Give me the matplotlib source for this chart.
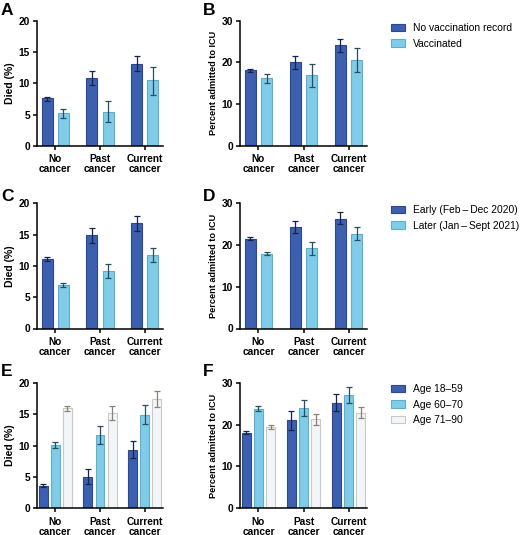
import matplotlib
matplotlib.use("Agg")
import matplotlib.pyplot as plt
import numpy as np
from matplotlib.patches import Patch

plt.rcParams['font.family'] = ['Liberation Sans', 'DejaVu Sans']

groups = ["No\ncancer", "Past\ncancer", "Current\ncancer"]

# A / B: vaccination status
vacc_labels = ["No vaccination record", "Vaccinated"]
died_vacc = [[7.6, 10.8, 13.1], [5.2, 5.5, 10.5]]
died_vacc_lo = [[7.25, 9.7, 11.9], [4.5, 3.85, 8.2]]
died_vacc_hi = [[7.9, 11.9, 14.3], [5.85, 7.15, 12.6]]
icu_vacc = [[18.1, 20.0, 24.1], [16.2, 16.9, 20.5]]
icu_vacc_lo = [[17.7, 18.5, 22.5], [15.2, 14.2, 17.6]]
icu_vacc_hi = [[18.5, 21.5, 25.6], [17.3, 19.6, 23.4]]

# C / D: period
period_labels = ["Early (Feb\u2009\u2013\u2009Dec 2020)", "Later (Jan\u2009\u2013\u2009Sept 2021)"]
died_period = [[11.05, 14.9, 16.8], [6.9, 9.25, 11.8]]
died_period_lo = [[10.7, 13.7, 15.6], [6.6, 8.1, 10.6]]
died_period_hi = [[11.35, 16.1, 18.0], [7.2, 10.3, 12.9]]
icu_period = [[21.5, 24.3, 26.3], [17.9, 19.2, 22.7]]
icu_period_lo = [[21.1, 22.9, 25.0], [17.55, 17.7, 21.3]]
icu_period_hi = [[21.85, 25.8, 27.8], [18.35, 20.7, 24.2]]

# E / F: age
age_labels = ["Age 18\u201359", "Age 60\u201370", "Age 71\u201390"]
died_age = [[3.6, 5.0, 9.35], [10.05, 11.7, 14.9], [15.95, 15.15, 17.4]]
died_age_lo = [[3.45, 3.8, 8.0], [9.6, 10.3, 13.4], [15.55, 14.0, 16.1]]
died_age_hi = [[3.8, 6.3, 10.7], [10.5, 13.2, 16.5], [16.35, 16.3, 18.7]]
icu_age = [[18.1, 21.0, 25.3], [23.8, 23.9, 27.0], [19.55, 21.3, 22.8]]
icu_age_lo = [[17.85, 18.7, 23.3], [23.2, 22.0, 25.3], [19.05, 20.0, 21.5]]
icu_age_hi = [[18.4, 23.3, 27.3], [24.4, 25.9, 28.9], [20.0, 22.6, 24.3]]

fills = ["#3d5fb0", "#80cbe7", "#f3f6f8"]
edges = ["#2b4891", "#5eaecf", "#c9c9c9"]
errc = ["#16244d", "#274f63", "#8a8274"]

fig = plt.figure(figsize=(5.2, 5.35), dpi=100)

colL, colR = 37 / 520, 240 / 520
wL, wR = 126 / 520, 127 / 520
rows = [1 - 146 / 535, 1 - 328.5 / 535, 1 - 508.2 / 535]
h = 125.3 / 535


def panel(pos, vals, lo, hi, ymax, ylab, ylabsize, letter, letter_xy):
    ax = fig.add_axes(pos)
    n = len(vals)
    x = np.arange(len(groups))
    if n == 2:
        offs = [-0.18, 0.18]
        w = 0.245
    else:
        offs = [-0.27, 0.0, 0.27]
        w = 0.2
    for i in range(n):
        v = np.array(vals[i])
        yerr = [v - np.array(lo[i]), np.array(hi[i]) - v]
        ax.bar(x + offs[i], v, w, color=fills[i], edgecolor=edges[i], linewidth=0.8, zorder=2)
        ax.errorbar(x + offs[i], v, yerr=yerr, fmt='none', ecolor=errc[i],
                    elinewidth=0.9, capsize=2.0, capthick=0.9, zorder=3)
    ax.set_xlim(-0.41, 2.41)
    ax.set_ylim(0, ymax)
    step = 5 if ymax == 20 else 10
    ax.set_yticks(np.arange(0, ymax + 1, step))
    ax.set_xticks(x)
    ax.set_xticklabels(groups, fontsize=7.3, fontweight='bold', linespacing=1.0)
    for t in ax.get_yticklabels():
        t.set_fontsize(7.4)
        t.set_fontweight('bold')
    ax.spines['top'].set_visible(False)
    ax.spines['right'].set_visible(False)
    ax.spines['left'].set_linewidth(1.1)
    ax.spines['bottom'].set_linewidth(1.1)
    ax.tick_params(axis='both', length=3, width=1.1, pad=2)
    ax.tick_params(axis='x', pad=3)
    ax.set_ylabel(ylab, fontsize=ylabsize, fontweight='bold', labelpad=3)
    fig.text(letter_xy[0] / 520, 1 - letter_xy[1] / 535, letter, fontsize=12.5,
             fontweight='bold', ha='left', va='top')
    return ax


panel([colL, rows[0], wL, h], died_vacc, died_vacc_lo, died_vacc_hi, 20, "Died (%)", 7.6, "A", (1, 3))
axB = panel([colR, rows[0], wR, h], icu_vacc, icu_vacc_lo, icu_vacc_hi, 30, "Percent admitted to ICU", 6.6, "B", (203, 3))
panel([colL, rows[1], wL, h], died_period, died_period_lo, died_period_hi, 20, "Died (%)", 7.6, "C", (1, 189))
axD = panel([colR, rows[1], wR, h], icu_period, icu_period_lo, icu_period_hi, 30, "Percent admitted to ICU", 6.6, "D", (203, 189))
panel([colL, rows[2], wL, h], died_age, died_age_lo, died_age_hi, 20, "Died (%)", 7.6, "E", (1, 364))
axF = panel([colR, rows[2], wR, h], icu_age, icu_age_lo, icu_age_hi, 30, "Percent admitted to ICU", 6.6, "F", (203, 364))


def legend(ax, labels, top):
    handles = [Patch(facecolor=fills[i], edgecolor=edges[i], linewidth=0.8) for i in range(len(labels))]
    ax.legend(handles, labels, loc='upper left', bbox_to_anchor=(391 / 520, 1 - top / 535),
              bbox_transform=fig.transFigure, frameon=False, fontsize=7.4,
              handlelength=1.4, handleheight=0.7, handletextpad=0.7,
              labelspacing=0.55, borderpad=0, borderaxespad=0)


legend(axB, vacc_labels, 23)
legend(axD, period_labels, 205)
legend(axF, age_labels, 384)

fig.savefig("out.png", dpi=100)
